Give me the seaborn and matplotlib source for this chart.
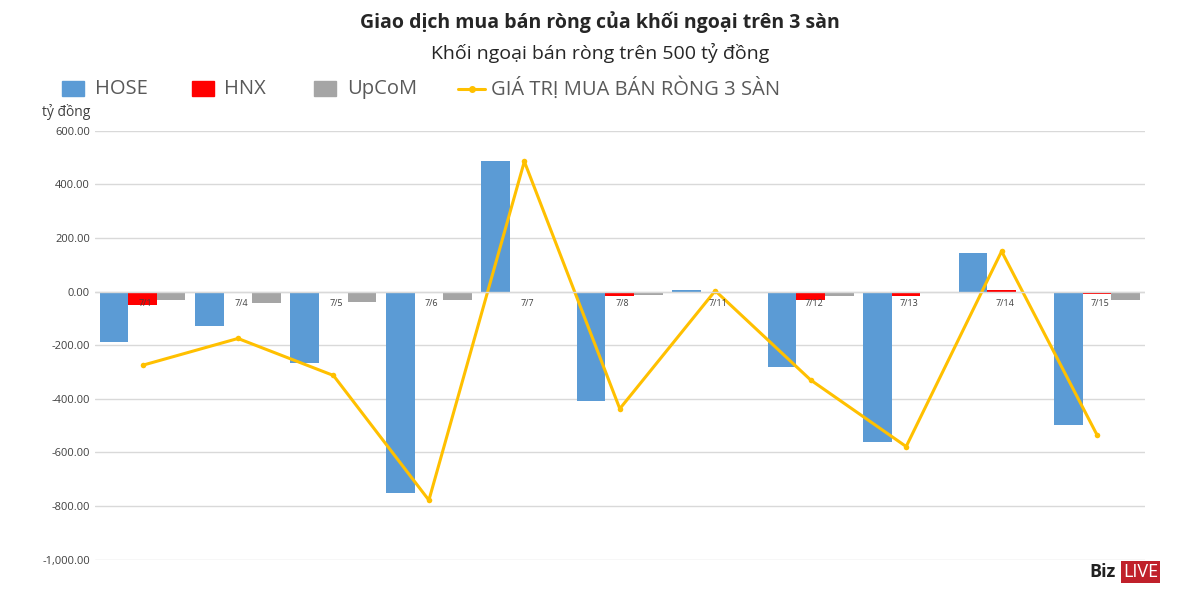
import numpy as np
import pandas as pd
import seaborn as sns
from matplotlib import pyplot as plt
from matplotlib.ticker import FuncFormatter

dates = ['7/1', '7/4', '7/5', '7/6', '7/7', '7/8', '7/11', '7/12', '7/13', '7/14', '7/15']
hose = [-190, -130, -268, -750, 488, -410, 5, -283, -560, 145, -497]
hnx = [-50, -2, -5, -2, -2, -15, -3, -33, -15, 5, -10]
upcom = [-32, -42, -40, -30, -5, -12, -2, -15, -5, -5, -30]
total = [-275, -175, -313, -778, 485, -437, 3, -330, -578, 150, -535]

sns.set_style('white')
plt.rcParams['font.family'] = ['Open Sans', 'DejaVu Sans']

df = pd.DataFrame({'date': dates, 'HOSE': hose, 'HNX': hnx, 'UpCoM': upcom})
long_df = df.melt(id_vars='date', var_name='san', value_name='value')

fig = plt.figure(figsize=(12, 5.91), dpi=100)
ax = fig.add_axes([0.079, 0.052, 0.875, 0.727])
ax.yaxis.grid(True, color='#d9d9d9', lw=1)
ax.set_axisbelow(True)
sns.barplot(data=long_df, x='date', y='value', hue='san', ax=ax,
            palette=['#5b9bd5', '#ff0000', '#a5a5a5'], width=0.9, gap=0.0,
            saturation=1, legend=False, linewidth=0)
sns.lineplot(x=np.arange(len(dates)), y=total, ax=ax, color='#ffc000', lw=2.2,
             marker='o', markersize=4, markeredgewidth=0)
ax.axhline(0, color='#d9d9d9', lw=1)
ax.set_ylim(-1002, 600)
ax.set_xlim(-0.5, len(dates) - 0.5)
ax.set_yticks(range(-1000, 601, 200))
ax.yaxis.set_major_formatter(FuncFormatter(lambda v, p: f'{v:,.2f}'))
ax.tick_params(axis='y', labelsize=8, colors='#404040', length=0)
ax.set_xticks([])
for i, d in enumerate(dates):
    ax.text(i + 0.03, -45, d, ha='center', va='center', fontsize=6.5, color='#404040')
ax.set_xlabel('')
ax.set_ylabel('')
sns.despine(ax=ax, left=True, bottom=True)

fig.text(0.5, 0.962, 'Giao dịch mua bán ròng của khối ngoại trên 3 sàn',
         ha='center', va='center', fontsize=14, fontweight='bold')
fig.text(0.5, 0.91, 'Khối ngoại bán ròng trên 500 tỷ đồng', ha='center', va='center', fontsize=14)
fig.text(0.035, 0.81, 'tỷ đồng', fontsize=10, color='#404040', va='center')

# legend
items = [(0.052, 'HOSE', 'bar', '#5b9bd5'), (0.16, 'HNX', 'bar', '#ff0000'),
         (0.262, 'UpCoM', 'bar', '#a5a5a5'), (0.382, 'GIÁ TRỊ MUA BÁN RÒNG 3 SÀN', 'line', '#ffc000')]
for x, label, kind, c in items:
    if kind == 'bar':
        fig.patches.append(plt.Rectangle((x, 0.838), 0.018, 0.025, color=c, transform=fig.transFigure))
    else:
        fig.lines.append(plt.Line2D([x, x + 0.022], [0.85, 0.85], color=c, lw=2.2, transform=fig.transFigure))
        fig.lines.append(plt.Line2D([x + 0.011], [0.85], color=c, marker='o', markersize=4, transform=fig.transFigure))
    fig.text(x + 0.027, 0.85, label, fontsize=14.5, color='#595959', va='center')

fig.text(0.908, 0.032, 'Biz', fontsize=13, fontweight='bold', color='#222222', va='center')
fig.text(0.936, 0.032, 'LIVE', fontsize=13, color='white', va='center',
         bbox=dict(facecolor='#c0202a', edgecolor='none', pad=1.5))

fig.savefig('out.png', dpi=100)
